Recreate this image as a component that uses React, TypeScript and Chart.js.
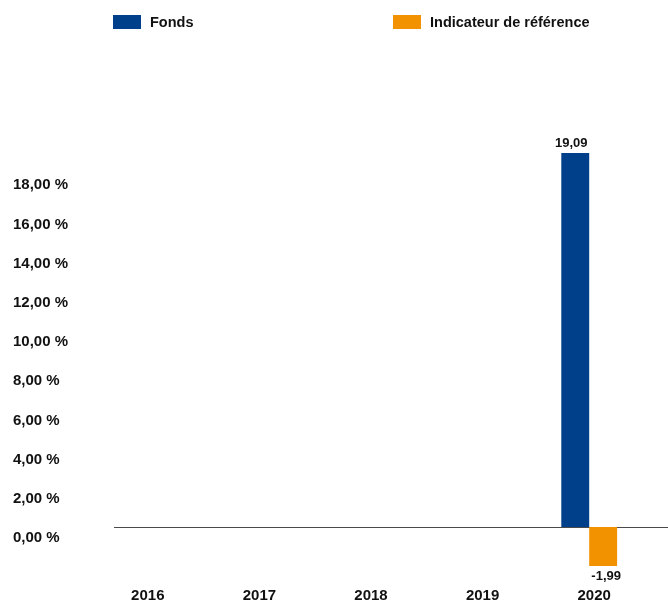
import React, { useEffect, useRef } from 'react';
import { Chart, registerables } from 'chart.js';

Chart.register(...registerables);

const categories = ['2016', '2017', '2018', '2019', '2020'];
const fondsValues: (number | null)[] = [null, null, null, null, 19.09];
const indicateurValues: (number | null)[] = [null, null, null, null, -1.99];
const seriesLabels = ['Fonds', 'Indicateur de référence'];
const seriesColors = ['#00408a', '#f39200'];
const yTickValues = [0, 2, 4, 6, 8, 10, 12, 14, 16, 18];

const FONT = '"Liberation Sans", Arial, Helvetica, sans-serif';
const fmt = (v: number) => v.toFixed(2).replace('.', ',');

const legendPlugin = {
  id: 'customLegend',
  afterDraw(chart: any) {
    const ctx = chart.ctx;
    const xs = [113, 393];
    chart.data.datasets.forEach((ds: any, i: number) => {
      ctx.save();
      ctx.fillStyle = ds.backgroundColor;
      ctx.fillRect(xs[i], 15, 28, 14);
      ctx.fillStyle = '#111111';
      ctx.font = `bold 14.5px ${FONT}`;
      ctx.textBaseline = 'middle';
      ctx.textAlign = 'left';
      ctx.fillText(ds.label, xs[i] + 37, 22.5);
      ctx.restore();
    });
  },
};

const zeroLinePlugin = {
  id: 'zeroLine',
  beforeDatasetsDraw(chart: any) {
    const ctx = chart.ctx;
    const y = Math.round(chart.scales.y.getPixelForValue(0)) + 0.5;
    ctx.save();
    ctx.strokeStyle = '#4a4a4a';
    ctx.lineWidth = 1;
    ctx.beginPath();
    ctx.moveTo(114, y);
    ctx.lineTo(chart.width, y);
    ctx.stroke();
    ctx.restore();
  },
};

const valueLabelPlugin = {
  id: 'valueLabels',
  afterDatasetsDraw(chart: any) {
    const ctx = chart.ctx;
    ctx.save();
    ctx.font = `bold 13px ${FONT}`;
    ctx.fillStyle = '#111111';
    ctx.textAlign = 'center';
    chart.data.datasets.forEach((ds: any, di: number) => {
      const meta = chart.getDatasetMeta(di);
      meta.data.forEach((el: any, idx: number) => {
        const v = ds.data[idx];
        if (v === null || v === undefined) return;
        const label = fmt(v);
        if (v >= 0) {
          ctx.textBaseline = 'bottom';
          ctx.fillText(label, el.x - 4, el.y - 3);
        } else {
          ctx.textBaseline = 'top';
          ctx.fillText(label, el.x + 3, el.y + 4);
        }
      });
    });
    ctx.restore();
  },
};

export default function App() {
  const canvasRef = useRef<HTMLCanvasElement | null>(null);

  useEffect(() => {
    if (!canvasRef.current) return;
    const chart = new Chart(canvasRef.current, {
      type: 'bar',
      data: {
        labels: categories,
        datasets: [
          {
            label: seriesLabels[0],
            data: fondsValues,
            backgroundColor: seriesColors[0],
            borderWidth: 0,
            categoryPercentage: 0.5,
            barPercentage: 1.0,
          },
          {
            label: seriesLabels[1],
            data: indicateurValues,
            backgroundColor: seriesColors[1],
            borderWidth: 0,
            categoryPercentage: 0.5,
            barPercentage: 1.0,
          },
        ],
      },
      options: {
        animation: false,
        responsive: true,
        maintainAspectRatio: false,
        layout: { padding: { left: 13, right: 23, top: 110, bottom: 0 } },
        plugins: {
          legend: { display: false },
          tooltip: { enabled: false },
        },
        scales: {
          x: {
            grid: { display: false, drawTicks: false },
            border: { display: false },
            afterFit: (scale: any) => {
              scale.height = 24;
            },
            ticks: {
              color: '#111111',
              font: { family: FONT, size: 15, weight: 'bold' },
              padding: 9,
              labelOffset: 5,
              maxRotation: 0,
              autoSkip: false,
            },
          },
          y: {
            min: -2.6,
            max: 21.28,
            grid: { display: false, drawTicks: false },
            border: { display: false },
            afterBuildTicks: (scale: any) => {
              scale.ticks = yTickValues.map((value) => ({ value }));
            },
            afterFit: (scale: any) => {
              scale.width = 74;
            },
            ticks: {
              color: '#111111',
              font: { family: FONT, size: 15, weight: 'bold' },
              crossAlign: 'far',
              labelOffset: 11,
              callback: (value: any) => `${fmt(Number(value))} %`,
            },
          },
        },
      },
      plugins: [zeroLinePlugin, valueLabelPlugin, legendPlugin],
    } as any);
    return () => chart.destroy();
  }, []);

  return (
    <div style={{ position: 'fixed', left: 0, top: 0, width: 668, height: 602, background: '#ffffff' }}>
      <canvas ref={canvasRef} />
    </div>
  );
}
